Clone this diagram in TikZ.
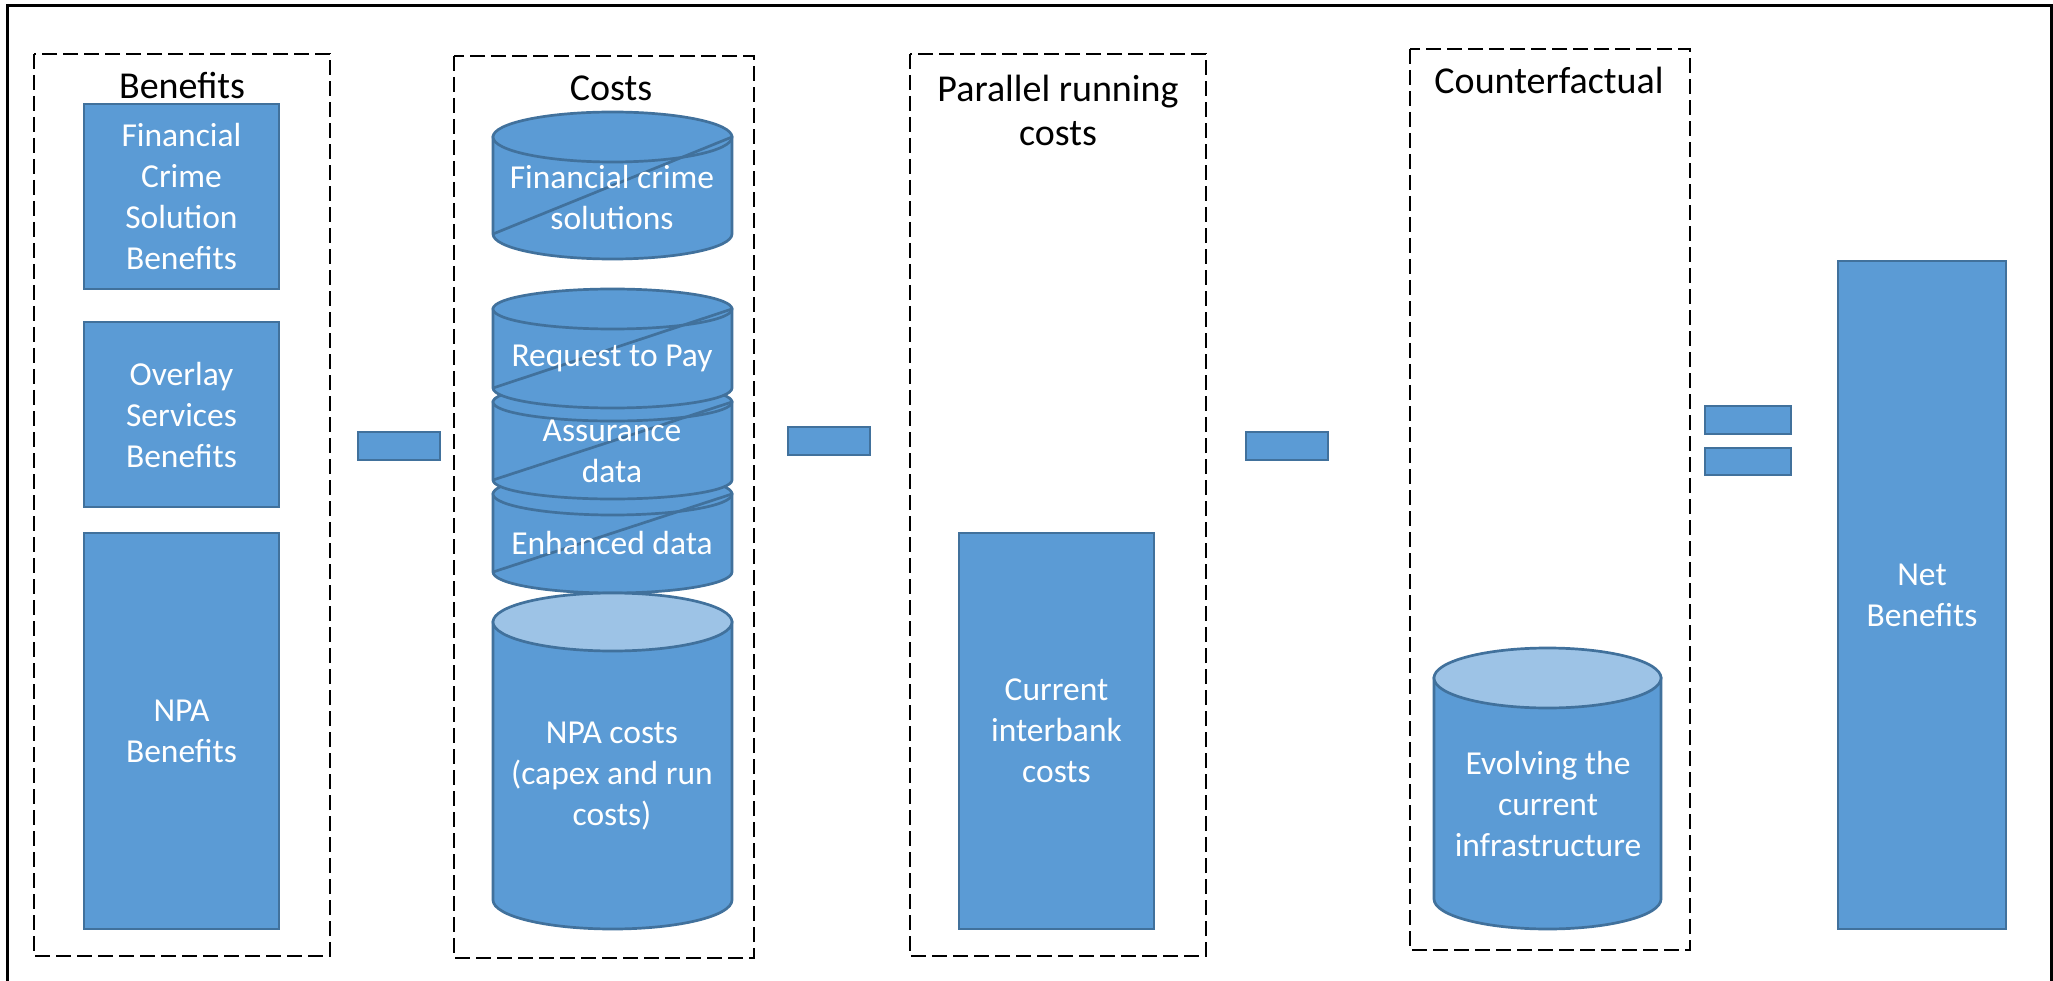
\documentclass[tikz,border=0pt]{standalone}
\usepackage{fontspec}
\setmainfont{Carlito}
\definecolor{fillblue}{HTML}{5B9BD5}
\definecolor{edgeblue}{HTML}{41719C}
\definecolor{lightblue}{HTML}{9DC3E6}
\newcommand{\cylshape}[8]{% name, x1, x2, ytopcentre, ybotcentre, ry, topfill, text
  \path[bluepart] (#2,#4) -- (#3,#4)
     -- (#3,#5) arc[start angle=0,end angle=180,x radius={(#3-#2)/2},y radius=#6] -- cycle;
  \path[bluepart,fill=#7] (#2,#4) arc[start angle=180,end angle=540,x radius={(#3-#2)/2},y radius=#6];
  \node[lbl] (#1) at ({(#2+#3)/2},{(#4+#5)/2+#6/2}) {#8};
}
\newcommand{\diskline}[4]{\draw[edgeline] (#1,#2) -- (#3,#4);}
\tikzset{
  x=1pt,y=-1pt,
  bluepart/.style={draw=edgeblue,fill=fillblue,line width=2.7pt},
  edgeline/.style={draw=edgeblue,line width=2.7pt},
  bluebox/.style={draw=edgeblue,fill=fillblue,line width=2.7pt,text=white,
     font=\fontsize{33.5}{41}\selectfont,align=center},
  lbl/.style={text=white,font=\fontsize{33.5}{41}\selectfont,align=center,inner sep=0pt},
  dashbox/.style={draw=black,line width=2.7pt,dash pattern=on 15pt off 6pt},
  heading/.style={text=black,font=\fontsize{38}{44}\selectfont,align=center,inner sep=0pt},
}
\begin{document}
\begin{tikzpicture}
\useasboundingbox (0,0) rectangle (2053,981);
\fill[white] (0,0) rectangle (2053,981);
% outer frame, open at the bottom edge
\draw[black,line width=3pt] (7,985) -- (7,6) -- (2051,6) -- (2051,985);
% dashed groups
\draw[dashbox] (34,54) rectangle (330,956);
\draw[dashbox] (454,56) rectangle (754,958);
\draw[dashbox] (910,54) rectangle (1206,956);
\draw[dashbox] (1410,49) rectangle (1690,950);
\node[heading] (hBen) at (182,86) {Benefits};
\node[heading] (hCos) at (611,88) {Costs};
\node[heading] (hPar) at (1058,110) {Parallel running\\costs};
\node[heading] (hCou) at (1549,80) {Counterfactual};
% benefits
\path[bluebox] (84,104) rectangle (279,289) node[pos=.5] (b1) {Financial\\Crime\\Solution\\Benefits};
\path[bluebox] (84,322) rectangle (279,507) node[pos=.5] (b2) {Overlay\\Services\\Benefits};
\path[bluebox] (84,533) rectangle (279,929) node[pos=.5] (b3) {NPA\\Benefits};
% operators
\path[bluebox] (358,432) rectangle (440,460) node[pos=.5] (m1) {};
\path[bluebox] (788,427) rectangle (870,455) node[pos=.5] (m2) {};
\path[bluebox] (1246,432) rectangle (1328,460) node[pos=.5] (m3) {};
\path[bluebox] (1705,406) rectangle (1791,434) node[pos=.5] (e1) {};
\path[bluebox] (1705,448) rectangle (1791,475) node[pos=.5] (e2) {};
% costs cylinders
\cylshape{c4}{493}{732}{494}{572}{21}{fillblue}{}
\diskline{493}{572}{732}{494}
\cylshape{c3}{493}{732}{402}{480}{19}{fillblue}{}
\diskline{493}{480}{732}{402}
\cylshape{c2}{493}{732}{309}{388}{20}{fillblue}{}
\diskline{493}{388}{732}{309}
\cylshape{c1}{493}{732}{137}{234}{25}{fillblue}{}
\diskline{493}{234}{732}{137}
\cylshape{c5}{493}{732}{622}{900}{29}{lightblue}{}
\node[lbl] (t1) at (612,197) {Financial crime\\solutions};
\node[lbl] (t2) at (612,358) {Request to Pay};
\node[lbl] (t3) at (612,451) {Assurance\\data};
\node[lbl] (t4) at (612,543) {Enhanced data};
\node[lbl] (t5) at (612,776) {NPA costs\\(capex and run\\costs)};
% parallel
\path[bluebox] (959,533) rectangle (1154,929) node[pos=.5] (p1) {Current\\interbank\\costs};
% counterfactual
\cylshape{k1}{1434}{1661}{678}{899}{30}{lightblue}{}
\node[lbl] (t6) at (1548,804) {Evolving the\\current\\infrastructure};
% net
\path[bluebox] (1838,261) rectangle (2006,929) node[pos=.5] (n1) {Net\\Benefits};
\end{tikzpicture}
\end{document}
